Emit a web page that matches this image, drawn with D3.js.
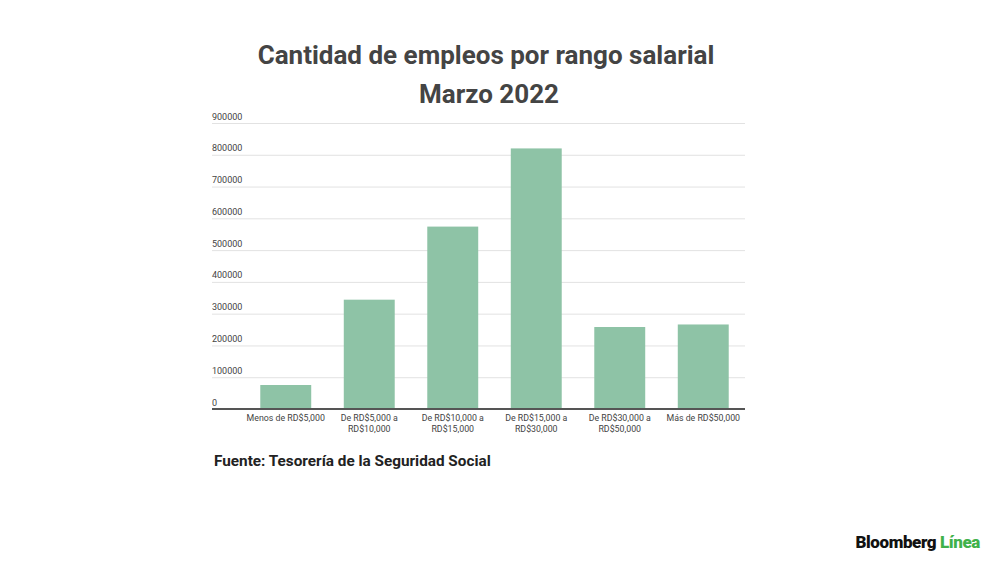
<!DOCTYPE html>
<html>
<head>
<meta charset="utf-8">
<script src="https://cdn.jsdelivr.net/npm/d3@7"></script>
<style>
  body { margin: 0; background: #fff; }
  text { font-family: Roboto, "Noto Sans", sans-serif; }
</style>
</head>
<body>
<div id="container"></div>
<script>
const width = 1000,
  height = 562,
  margin = { top: 123, bottom: 153, left: 212, right: 255 }

// data
const categories = [
  ["Menos de RD$5,000"],
  ["De RD$5,000 a", "RD$10,000"],
  ["De RD$10,000 a", "RD$15,000"],
  ["De RD$15,000 a", "RD$30,000"],
  ["De RD$30,000 a", "RD$50,000"],
  ["Más de RD$50,000"]
]
const empleos = [75500, 344000, 574000, 820000, 258000, 266000]
const yTicks = [0, 100000, 200000, 300000, 400000, 500000, 600000, 700000, 800000, 900000]

const svg = d3.select("#container")
  .append("svg")
  .attr("width", width)
  .attr("height", height)

// SCALES
const xScale = d3.scaleBand()
  .domain(d3.range(categories.length))
  .range([margin.left + 32, width - margin.right])
  .paddingInner(0.39)
  .paddingOuter(0.195)

const yScale = d3.scaleLinear()
  .domain([0, 900000])
  .range([height - margin.bottom, margin.top])

// title
svg.append("text")
  .attr("x", 486).attr("y", 64)
  .attr("text-anchor", "middle")
  .attr("font-size", 26).attr("font-weight", 700)
  .attr("fill", "#444")
  .text("Cantidad de empleos por rango salarial")
svg.append("text")
  .attr("x", 489).attr("y", 103)
  .attr("text-anchor", "middle")
  .attr("font-size", 26).attr("font-weight", 700)
  .attr("fill", "#444")
  .text("Marzo 2022")

// gridlines + y labels
const yAxis = d3.axisLeft(yScale)
  .tickValues(yTicks)
  .tickSize(-(width - margin.right - margin.left))
  .tickFormat(d => d)
const gy = svg.append("g")
  .attr("transform", `translate(${margin.left},0)`)
  .call(yAxis)
gy.select(".domain").remove()
gy.selectAll(".tick line").attr("stroke", "#e2e2e2")
gy.selectAll(".tick text")
  .attr("x", 0).attr("dy", -4)
  .attr("text-anchor", "start")
  .attr("fill", "#444")
  .style("font-size", "9px")

// bars
svg.selectAll(".bar")
  .data(empleos)
  .join("rect")
  .attr("class", "bar")
  .attr("x", (d, i) => xScale(i))
  .attr("y", d => yScale(d))
  .attr("width", xScale.bandwidth())
  .attr("height", d => yScale(0) - yScale(d))
  .attr("fill", "#8ec3a6")

// baseline
svg.append("line")
  .attr("x1", margin.left).attr("x2", width - margin.right)
  .attr("y1", yScale(0)).attr("y2", yScale(0))
  .attr("stroke", "#555").attr("stroke-width", 2)

// x labels
const xl = svg.selectAll(".xlab")
  .data(categories)
  .join("text")
  .attr("class", "xlab")
  .attr("x", (d, i) => xScale(i) + xScale.bandwidth() / 2)
  .attr("y", yScale(0) + 12)
  .attr("text-anchor", "middle")
  .attr("font-size", 8.8)
  .attr("fill", "#444")
xl.selectAll("tspan")
  .data(d => d)
  .join("tspan")
  .attr("x", function () { return this.parentNode.getAttribute("x") })
  .attr("dy", (d, i) => i ? 11 : 0)
  .text(d => d)

// source
svg.append("text")
  .attr("x", 214).attr("y", 466)
  .attr("font-size", 15.3).attr("font-weight", 700)
  .attr("fill", "#222")
  .text("Fuente: Tesorería de la Seguridad Social")

// logo
const logo = svg.append("text")
  .attr("x", 980).attr("y", 548)
  .attr("text-anchor", "end")
  .attr("font-size", 17).attr("font-weight", 900)
  .attr("letter-spacing", -0.4)
logo.append("tspan").attr("fill", "#111").text("Bloomberg ")
logo.append("tspan").attr("fill", "#3fb14a").text("Línea")
</script>
</body>
</html>
